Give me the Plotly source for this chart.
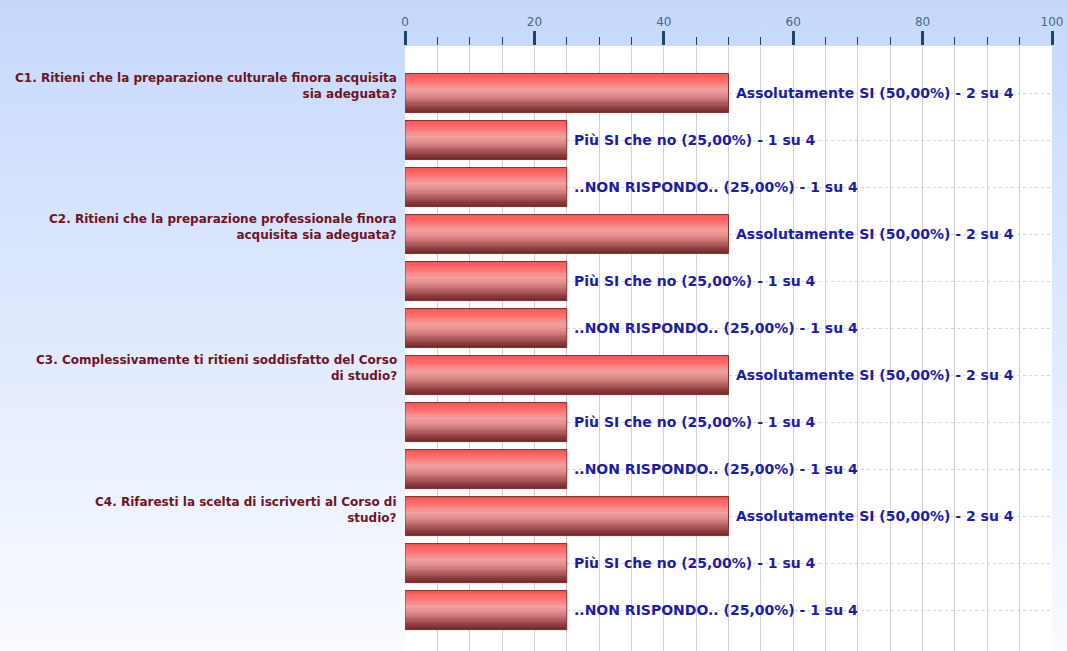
import base64
import plotly.graph_objects as go

# ---------------- data ----------------
questions = [
    "C1. Ritieni che la preparazione culturale finora acquisita<br>sia adeguata?",
    "C2. Ritieni che la preparazione professionale finora<br>acquisita sia adeguata?",
    "C3. Complessivamente ti ritieni soddisfatto del Corso<br>di studio?",
    "C4. Rifaresti la scelta di iscriverti al Corso di<br>studio?",
]
answers = ["Assolutamente SI", "Più SI che no", "..NON RISPONDO.."]
percentages = [
    [50, 25, 25],
    [50, 25, 25],
    [50, 25, 25],
    [50, 25, 25],
]
counts = [
    [2, 1, 1],
    [2, 1, 1],
    [2, 1, 1],
    [2, 1, 1],
]
total = 4
x_ticks = [0, 20, 40, 60, 80, 100]

# ---------------- flatten ----------------
values, positions, labels, q_pos = [], [], [], []
pos = 0
for qi in range(len(questions)):
    q_pos.append(pos)
    for ai, a in enumerate(answers):
        p = percentages[qi][ai]
        pstr = f"{p:.2f}".replace(".", ",")
        values.append(p)
        positions.append(pos)
        labels.append(f"{a} ({pstr}%) - {counts[qi][ai]} su {total}")
        pos += 1

W, H = 1067, 651
ML, MR, MT = 405, 15, 46

fig = go.Figure()

# gradient bar styling (stacked thin strips)
stops = [(0.0, (200, 74, 74)), (0.06, (255, 92, 92)), (0.2, (255, 110, 110)),
         (0.42, (242, 160, 160)), (0.6, (220, 136, 136)), (0.8, (168, 84, 84)),
         (1.0, (110, 40, 40))]


def col_at(t):
    for (t0, c0), (t1, c1) in zip(stops[:-1], stops[1:]):
        if t0 <= t <= t1:
            f = (t - t0) / (t1 - t0) if t1 > t0 else 0
            return "rgb(%d,%d,%d)" % tuple(round(a + (b - a) * f) for a, b in zip(c0, c1))
    return "rgb(%d,%d,%d)" % stops[-1][1]


bar_th = 0.83
n = 32
sw = bar_th / n
for k in range(n):
    fig.add_trace(go.Bar(
        x=values, y=positions, orientation="h",
        width=sw * 1.15, offset=-bar_th / 2 + k * sw,
        marker=dict(color=col_at((k + 0.5) / n), line=dict(width=0)),
        hoverinfo="skip", showlegend=False,
    ))
# outline
fig.add_trace(go.Bar(
    x=values, y=positions, orientation="h",
    width=bar_th, offset=-bar_th / 2,
    marker=dict(color="rgba(0,0,0,0)", line=dict(width=1, color="#8a3434")),
    hoverinfo="skip", showlegend=False,
))

# bar value labels
for v, p, t in zip(values, positions, labels):
    fig.add_annotation(x=v, y=p, text=t, xanchor="left", yanchor="middle",
                       xshift=5, showarrow=False,
                       font=dict(family="DejaVu Sans", size=14, color="#1c1ca8", weight="bold"))

# question labels
for q, p in zip(questions, q_pos):
    fig.add_annotation(x=0, xref="paper", y=p - 0.14, text=q, xanchor="right",
                       yanchor="middle", align="right", xshift=-6, showarrow=False,
                       font=dict(family="DejaVu Sans", size=12, color="#6e1424", weight="bold"))

# background gradient as svg image
pw = W - ML - MR
ph = H - MT
svg = f'''<svg xmlns="http://www.w3.org/2000/svg" width="{W}" height="{H}" viewBox="0 0 {W} {H}" preserveAspectRatio="none">
<defs><linearGradient id="g" x1="0" y1="0" x2="0" y2="1">
<stop offset="0" stop-color="#c5d8fc"/><stop offset="1" stop-color="#f9fbff"/></linearGradient></defs>
<rect x="0" y="0" width="{W}" height="{H}" fill="url(#g)"/>
<rect x="{ML}" y="{MT}" width="{pw}" height="{ph}" fill="#ffffff"/>
</svg>'''
src = "data:image/svg+xml;base64," + base64.b64encode(svg.encode()).decode()
fig.add_layout_image(dict(source=src, xref="paper", yref="paper",
                          x=-ML / pw, y=1 + MT / ph, sizex=W / pw, sizey=H / ph,
                          xanchor="left", yanchor="top", sizing="stretch", layer="below"))

fig.update_layout(
    width=W, height=H,
    margin=dict(l=ML, r=MR, t=MT, b=0, pad=0),
    paper_bgcolor="#e6eefc", plot_bgcolor="rgba(0,0,0,0)",
    barmode="overlay", showlegend=False,
    xaxis=dict(side="top", range=[0, 100], tickvals=x_ticks,
               ticks="outside", ticklen=14, tickwidth=2.5, tickcolor="#1e4466",
               tickfont=dict(family="DejaVu Sans", size=12, color="#44688a"),
               showgrid=True, gridcolor="#d0d0d0", gridwidth=1,
               minor=dict(dtick=5, ticks="outside", ticklen=8, tickwidth=1,
                          tickcolor="#1e4466", showgrid=True, gridcolor="#d0d0d0"),
               zeroline=False, showline=False, fixedrange=True),
    yaxis=dict(range=[11.87, -1], tickvals=positions, showticklabels=False,
               showgrid=True, gridcolor="#d6d6d6", griddash="dot", gridwidth=1,
               zeroline=False, showline=False, ticks=""),
)

fig.write_html("out.html", config={"displayModeBar": False},
               post_script="document.body.style.margin='0';")
